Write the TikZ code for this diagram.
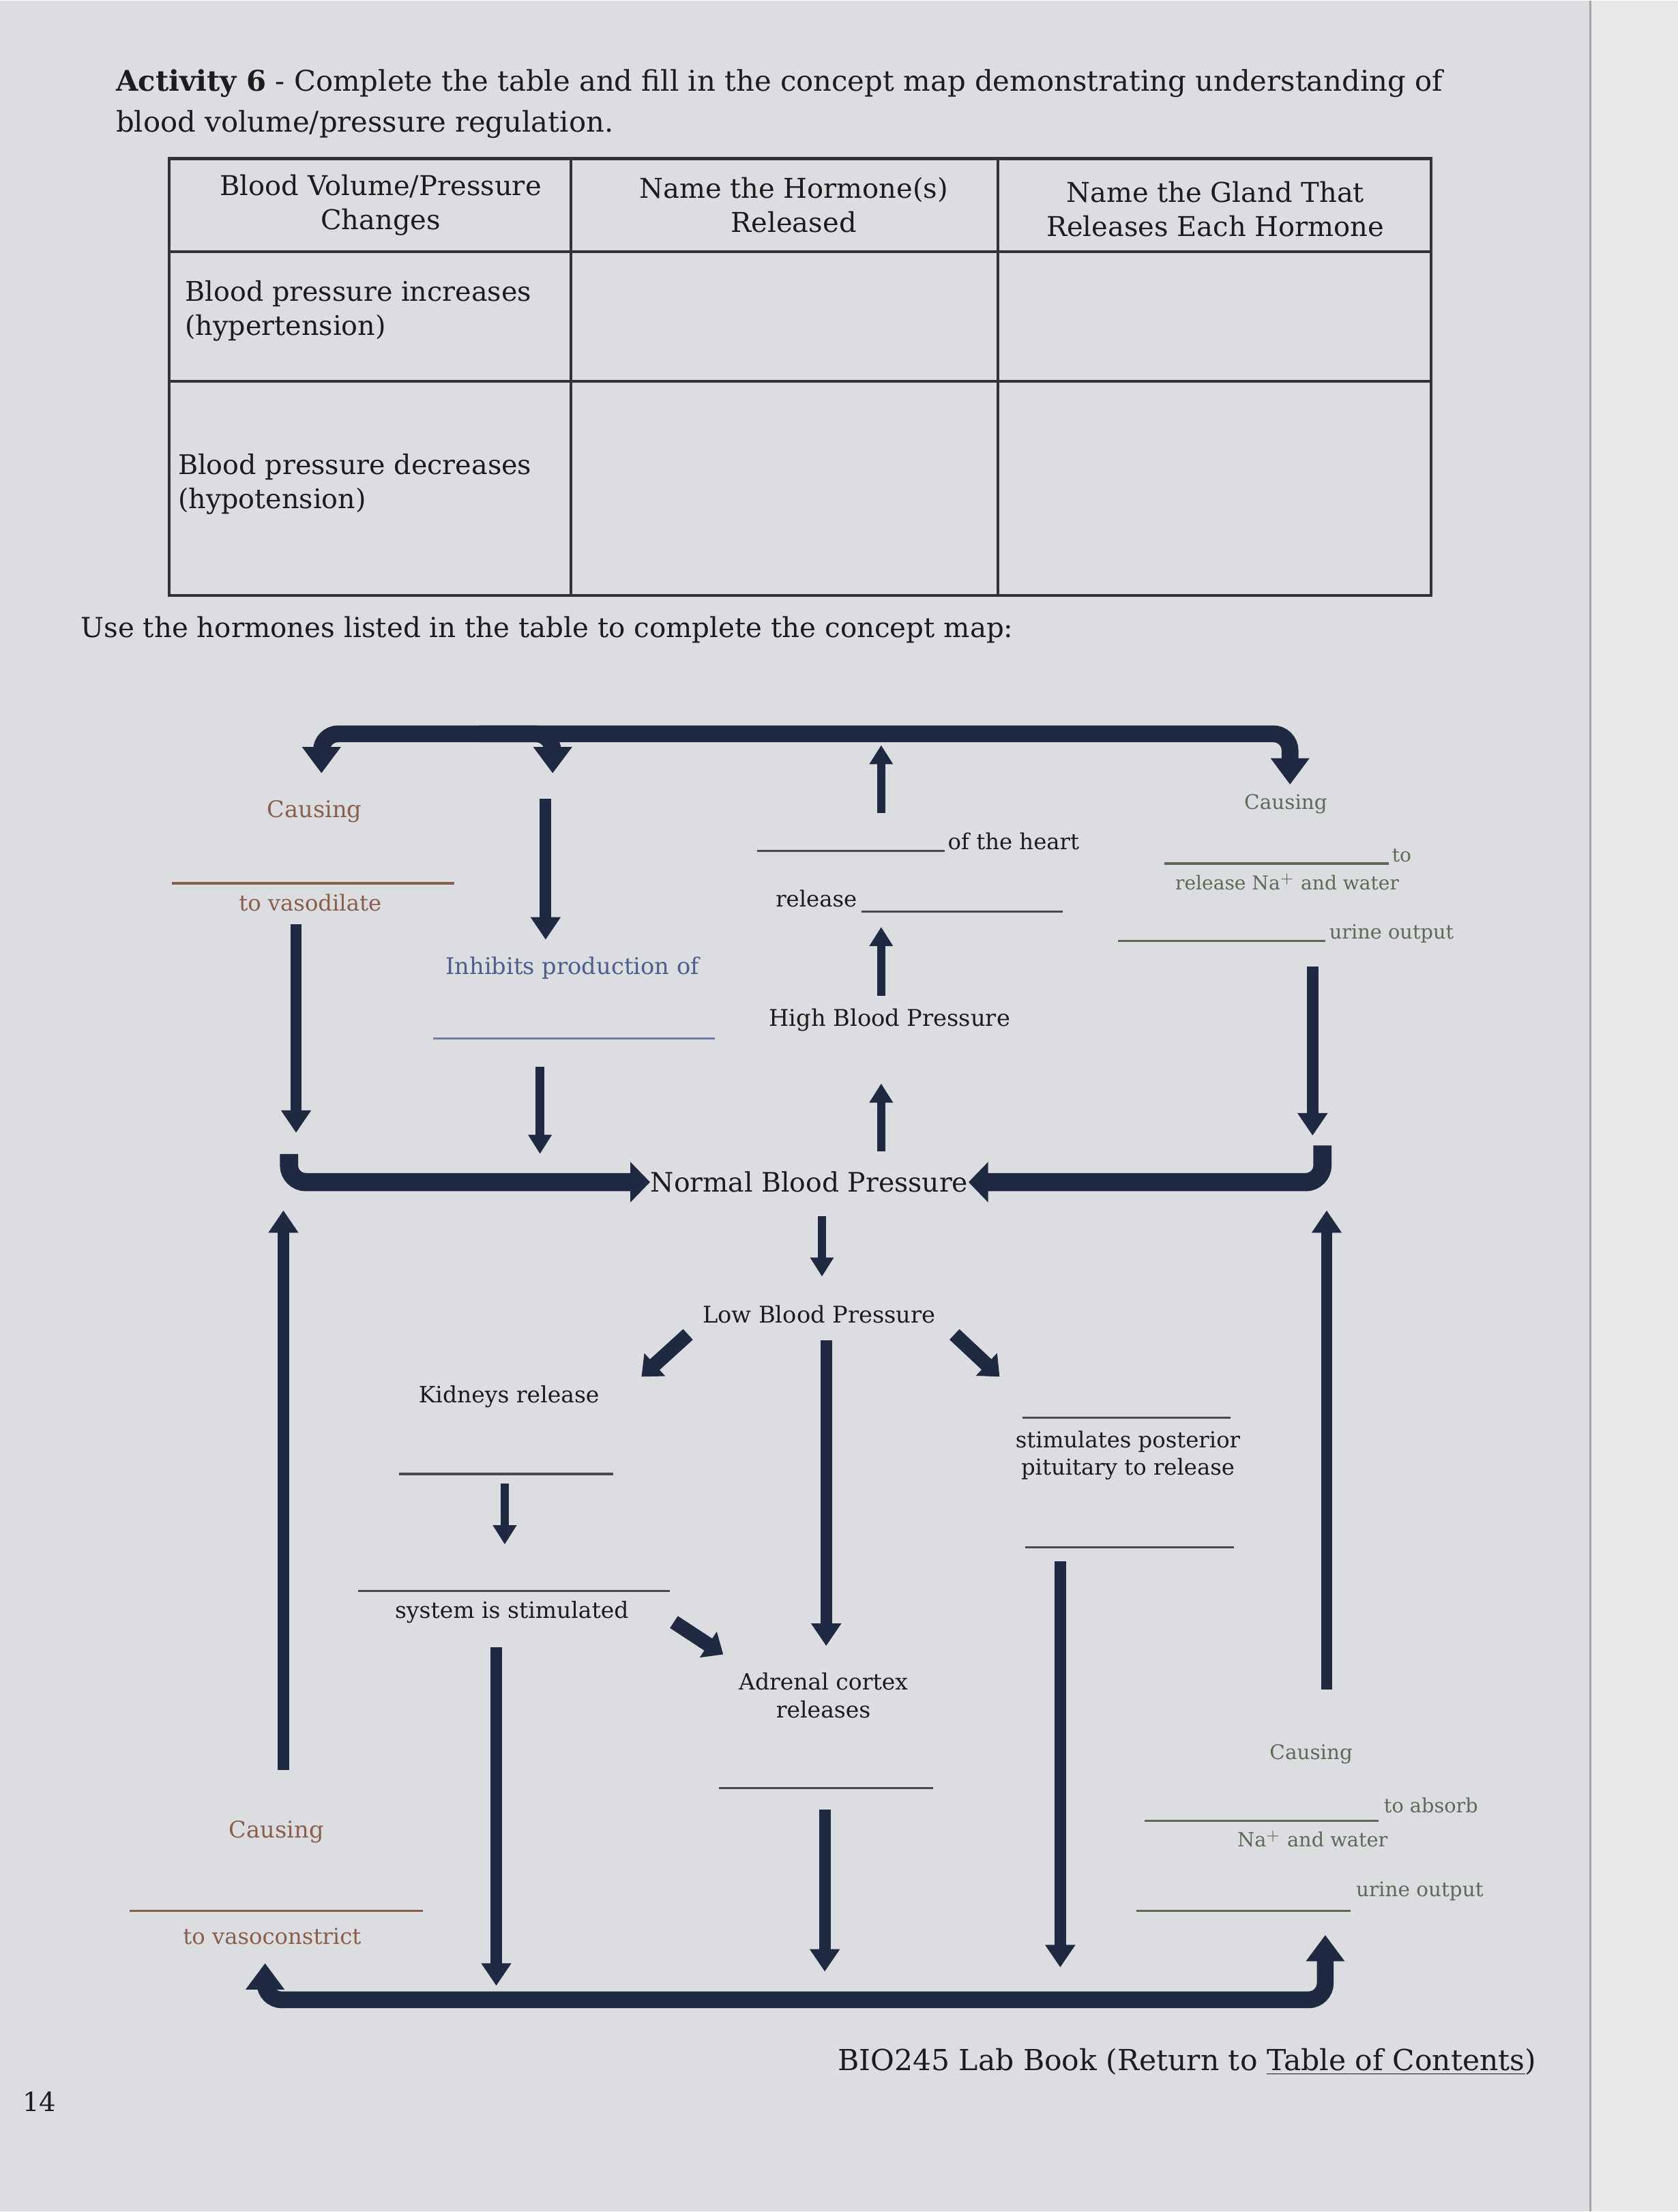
\documentclass[tikz,border=0pt]{standalone}
\usepackage{fontspec}
\setmainfont{DejaVu Serif}
\usetikzlibrary{arrows.meta}
\definecolor{page}{HTML}{DCDDE0}
\definecolor{edge}{HTML}{E9E9EB}
\definecolor{ink}{HTML}{1C1C1E}
\definecolor{navy}{HTML}{1F2A42}
\definecolor{brn}{HTML}{8A5E4C}
\definecolor{blu}{HTML}{4D5D8C}
\definecolor{grn}{HTML}{5E6A58}
\tikzset{
  BarTip/.tip={Triangle[width=15.5pt,length=11pt]},
  tx/.style={inner sep=0pt, text=ink, align=center},
  f/.style={font=\fontsize{#1}{\fpeval{#1*1.25}}\selectfont},
  blank/.style={line width=0.9pt, draw=ink!80},
  blankb/.style={line width=0.9pt, draw=brn},
  blankg/.style={line width=0.9pt, draw=grn},
  blankl/.style={line width=0.9pt, draw=blu!80},
  tabline/.style={line width=1.2pt, draw=ink!90},
  shortarr/.style={navy, line width=3.5pt, -{Triangle[width=9.4pt,length=8pt]}},
  longarr/.style={navy, line width=4.8pt, -{Triangle[width=12pt,length=9.4pt]}},
  diagarr/.style={navy, line width=6pt, -{Triangle[width=12.5pt,length=7.5pt]}},
  barline/.style={navy, line width=7pt, rounded corners=7pt},
  midbar/.style={navy, line width=7.6pt, rounded corners=7pt, -{Triangle[width=16.4pt,length=8.2pt]}},
}
\begin{document}
\begin{tikzpicture}[x=0.020689cm,y=-0.020689cm]
\fill[page] (0,0) rectangle (1190,1568);
\fill[edge] (1128,0) rectangle (1190,1568);
\draw[line width=0.6pt, ink!40] (1128,0) -- (1128,1568);
\useasboundingbox (0,0) rectangle (1190,1568);

% ---------- heading ----------
\node[tx, f=11.9, anchor=base west] (title1) at (82,64) {\textbf{Activity 6} - Complete the table and fill in the concept map demonstrating understanding of};
\node[tx, f=11.9, anchor=base west] (title2) at (82,93) {blood volume/pressure regulation.};

% ---------- table ----------
\draw[tabline] (120,112) rectangle (1015,422);
\draw[tabline] (120,178) -- (1015,178);
\draw[tabline] (120,270) -- (1015,270);
\draw[tabline] (405,112) -- (405,422);
\draw[tabline] (708,112) -- (708,422);
\node[tx, f=11.4] (h1) at (270,145) {Blood Volume/Pressure\\Changes};
\node[tx, f=11.4] (h2) at (563,145) {Name the Hormone(s)\\Released};
\node[tx, f=11.4] (h3) at (862,148) {Name the Gland That\\Releases Each Hormone};
\node[tx, f=11.3, align=left, anchor=west] (r1) at (131,220) {Blood pressure increases\\(hypertension)};
\node[tx, f=11.3, align=left, anchor=west] (r2) at (126,343) {Blood pressure decreases\\(hypotension)};

\node[tx, f=11.5] (use) at (388,446) {Use the hormones listed in the table to complete the concept map:};

% ---------- concept map: text ----------
% left (brown)
\node[tx, f=9.6, text=brn] (caus1) at (223,575) {Causing};
\draw[blankb] (122,626) -- (322,626);
\node[tx, f=9.2, text=brn] (vasod) at (220,640) {to vasodilate};
\node[tx, f=9.6, text=brn] (caus2) at (196,1299) {Causing};
\draw[blankb] (92,1355) -- (300,1355);
\node[tx, f=9.2, text=brn] (vasoc) at (193,1373) {to vasoconstrict};
% blue
\node[tx, f=9.6, text=blu] (inhib) at (406,686) {Inhibits production of};
\draw[blankl] (307,736) -- (507,736);
% right (green)
\node[tx, f=8.4, text=grn] (caus3) at (912,570) {Causing};
\draw[blankg] (826,612) -- (985,612);
\node[tx, f=8, text=grn, anchor=base west] (to1) at (987,611) {to};
\node[tx, f=8, text=grn] (relna) at (913,625) {release Na$^{+}$ and water};
\draw[blankg] (793,667) -- (940,667);
\node[tx, f=8.2, text=grn] (urine1) at (987,662) {urine output};
\node[tx, f=8.4, text=grn] (caus4) at (930,1244) {Causing};
\draw[blankg] (812,1291) -- (978,1291);
\node[tx, f=8.2, text=grn] (absorb) at (1015,1280) {to absorb};
\node[tx, f=8.2, text=grn] (nawat) at (931,1304) {Na$^{+}$ and water};
\draw[blankg] (806,1355) -- (958,1355);
\node[tx, f=8.4, text=grn] (urine2) at (1007,1341) {urine output};
% black
\draw[blank] (537,603) -- (670,603);
\node[tx, f=9.2, anchor=base west] (heart) at (672,602) {of the heart};
\node[tx, f=9.2] (rel) at (579,637) {release};
\draw[blank] (611,646) -- (754,646);
\node[tx, f=9.6] (high) at (631,723) {High Blood Pressure};
\node[tx, f=11.2] (normal) at (574,838) {Normal Blood Pressure};
\node[tx, f=9.6] (low) at (581,932) {Low Blood Pressure};
\node[tx, f=9.4] (kid) at (361,990) {Kidneys release};
\draw[blank] (283,1045) -- (435,1045);
\draw[blank] (254,1128) -- (475,1128);
\node[tx, f=9.4] (sys) at (363,1143) {system is stimulated};
\node[tx, f=9.4] (adr) at (584,1202) {Adrenal cortex\\releases};
\draw[blank] (510,1268) -- (662,1268);
\draw[blank] (725,1005) -- (873,1005);
\node[tx, f=9.2] (post) at (800,1032) {stimulates posterior\\pituitary to release};
\draw[blank] (727,1097) -- (875,1097);

% ---------- concept map: arrow end points ----------
\coordinate (tlTip) at (228,548);
\coordinate (trTip) at (915,556);
\coordinate (tmTip) at (392,548);
\coordinate (barL) at (228,520);
\coordinate (barR) at (915,520);
\coordinate (brA) at (340,520);
\coordinate (brB) at (392,520);
\coordinate (a1s) at (387,566);   \coordinate (a1e) at (387,666);
\coordinate (a2s) at (625,576);   \coordinate (a2e) at (625,528);
\coordinate (a3s) at (625,706);   \coordinate (a3e) at (625,657);
\coordinate (a4s) at (625,816);   \coordinate (a4e) at (625,768);
\coordinate (a5s) at (383,756);   \coordinate (a5e) at (383,818);
\coordinate (a6s) at (210,655);   \coordinate (a6e) at (210,803);
\coordinate (a7s) at (931,685);   \coordinate (a7e) at (931,805);
\coordinate (mlA) at (205,818);   \coordinate (mlB) at (205,838);
\coordinate (mrA) at (938,812);   \coordinate (mrB) at (938,838);
\coordinate (a8s) at (583,862);   \coordinate (a8e) at (583,905);
\coordinate (dls) at (488,946);   \coordinate (dle) at (455,976);
\coordinate (drs) at (677,946);   \coordinate (dre) at (709,976);
\coordinate (a9s) at (586,950);   \coordinate (a9e) at (586,1167);
\coordinate (a10s) at (201,1255); \coordinate (a10e) at (201,858);
\coordinate (a11s) at (941,1198); \coordinate (a11e) at (941,858);
\coordinate (a12s) at (358,1052); \coordinate (a12e) at (358,1095);
\coordinate (dss) at (478,1150);  \coordinate (dse) at (513,1173);
\coordinate (a13s) at (585,1283); \coordinate (a13e) at (585,1398);
\coordinate (a14s) at (752,1107); \coordinate (a14e) at (752,1395);
\coordinate (a15s) at (352,1168); \coordinate (a15e) at (352,1408);
\coordinate (blTip) at (188,1392);
\coordinate (brTip) at (940,1372);
\coordinate (botY) at (0,1418);

% ---------- concept map: arrows ----------
\draw[barline, BarTip-BarTip] (tlTip) -- (barL) -- (barR) -- (trTip);
\draw[barline, -BarTip] (brA) -- (brB) -- (tmTip);
\draw[longarr] (a1s) -- (a1e);
\draw[shortarr] (a2s) -- (a2e);
\draw[shortarr] (a3s) -- (a3e);
\draw[shortarr] (a4s) -- (a4e);
\draw[shortarr] (a5s) -- (a5e);
\draw[longarr] (a6s) -- (a6e);
\draw[longarr] (a7s) -- (a7e);
\draw[midbar] (mlA) -- (mlB) -- (normal.west);
\draw[midbar] (mrA) -- (mrB) -- (normal.east);
\draw[shortarr] (a8s) -- (a8e);
\draw[diagarr] (dls) -- (dle);
\draw[diagarr] (drs) -- (dre);
\draw[longarr] (a9s) -- (a9e);
\draw[longarr] (a10s) -- (a10e);
\draw[longarr] (a11s) -- (a11e);
\draw[shortarr] (a12s) -- (a12e);
\draw[diagarr] (dss) -- (dse);
\draw[longarr] (a13s) -- (a13e);
\draw[longarr] (a14s) -- (a14e);
\draw[longarr] (a15s) -- (a15e);
\draw[barline, BarTip-BarTip] (blTip) -- (blTip |- botY) -- (brTip |- botY) -- (brTip);

% ---------- footer ----------
\node[tx, f=12.1] (foot) at (842,1462) {BIO245 Lab Book (Return to \underline{Table of Contents})};
\node[tx, f=11] (pnum) at (28,1490) {14};
\end{tikzpicture}
\end{document}
